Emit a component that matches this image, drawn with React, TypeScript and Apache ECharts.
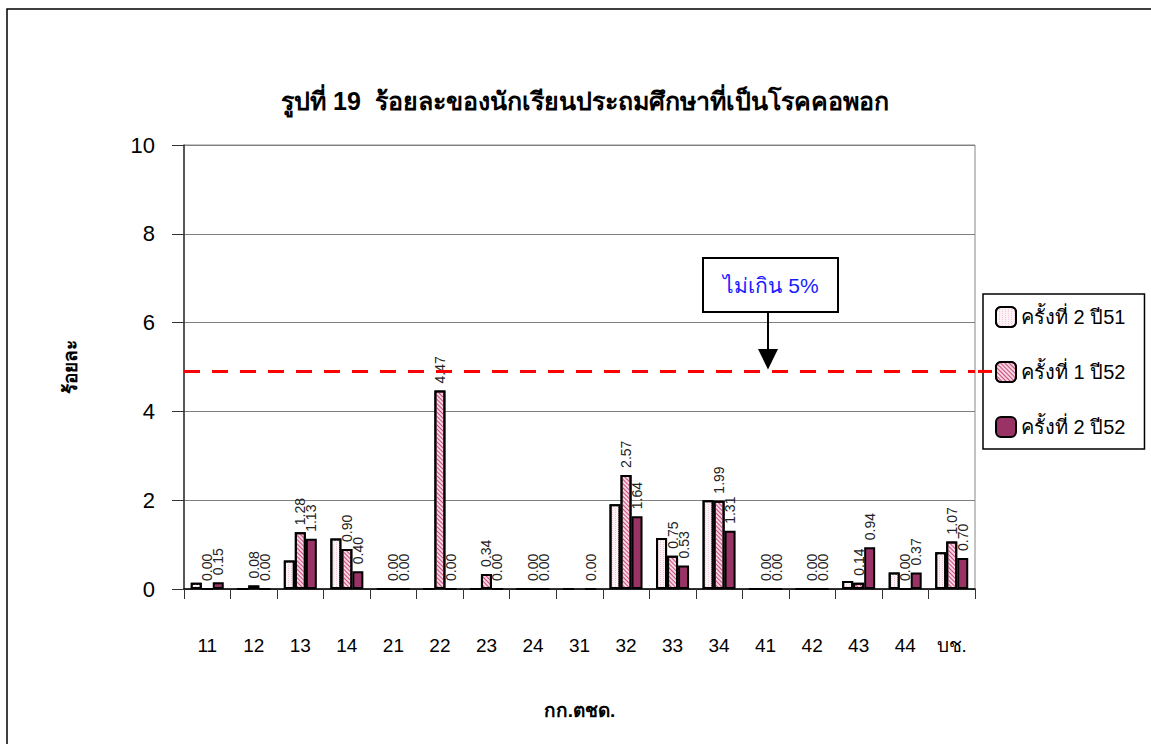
import React, { useEffect, useRef } from "react";
import * as echarts from "echarts";

const categories = ["11", "12", "13", "14", "21", "22", "23", "24", "31", "32", "33", "34", "41", "42", "43", "44", "บช."];
const seriesNames = ["ครั้งที่ 2 ปี51", "ครั้งที่ 1 ปี52", "ครั้งที่ 2 ปี52"];
const round2y51 = [0.14, 0, 0.64, 1.14, 0, 0, 0, 0, 0, 1.91, 1.15, 2.0, 0, 0, 0.18, 0.37, 0.83];
const round1y52 = [0.0, 0.08, 1.28, 0.9, 0.0, 4.47, 0.34, 0.0, null, 2.57, 0.75, 1.99, 0.0, 0.0, 0.14, 0.0, 1.07];
const round2y52 = [0.15, 0.0, 1.13, 0.4, 0.0, 0.0, 0.0, 0.0, 0.0, 1.64, 0.53, 1.31, 0.0, 0.0, 0.94, 0.37, 0.7];
const limitValue = 4.9;
const yTicks = { min: 0, max: 10, interval: 2 };
const titleText = "รูปที่ 19  ร้อยละของนักเรียนประถมศึกษาที่เป็นโรคคอพอก";
const xName = "กก.ตชด.";
const yName = "ร้อยละ";
const noteText = "ไม่เกิน 5%";

const FONT = "Arial, 'Liberation Sans', 'Noto Sans', sans-serif";

export default function App() {
  const ref = useRef<HTMLDivElement>(null);
  useEffect(() => {
    if (!ref.current) return;
    const chart = echarts.init(ref.current, null, { renderer: "svg" });
    const labelCfg = {
      show: true,
      position: "top",
      rotate: 90,
      align: "left",
      verticalAlign: "middle",
      distance: 7,
      fontSize: 14,
      fontFamily: FONT,
      color: "#222",
      formatter: (p: any) => (p.value == null ? "" : Number(p.value).toFixed(2)),
    };
    chart.setOption({
      animation: false,
      backgroundColor: "#fff",
      title: {
        text: titleText,
        left: 580,
        textAlign: "center",
        top: 83,
        textStyle: { fontSize: 25, fontWeight: "bold", fontFamily: FONT, color: "#000" },
      },
      legend: {
        orient: "vertical",
        left: 983,
        top: 294,
        padding: [12, 19, 11, 12],
        itemWidth: 20,
        itemHeight: 20,
        itemGap: 33,
        borderColor: "#000",
        borderWidth: 1.5,
        backgroundColor: "#fff",
        textStyle: { fontSize: 20, fontFamily: FONT, color: "#000" },
        data: seriesNames,
      },
      grid: {
        left: 184,
        top: 145,
        right: 176,
        bottom: 155,
        show: true,
        borderColor: "#888",
        borderWidth: 1,
      },
      xAxis: {
        type: "category",
        data: categories,
        name: xName,
        nameLocation: "middle",
        nameGap: 112,
        nameTextStyle: { fontSize: 19, fontWeight: "bold", fontFamily: FONT, color: "#000" },
        axisLine: { lineStyle: { color: "#000", width: 1.5 } },
        axisTick: { show: true, length: 10, lineStyle: { color: "#333" } },
        axisLabel: { margin: 47, fontSize: 19, fontFamily: FONT, color: "#000" },
      },
      yAxis: {
        type: "value",
        min: yTicks.min,
        max: yTicks.max,
        interval: yTicks.interval,
        name: yName,
        nameLocation: "middle",
        nameGap: 104,
        nameRotate: 90,
        nameTextStyle: { fontSize: 19, fontWeight: "bold", fontFamily: FONT, color: "#000" },
        axisLine: { show: true, lineStyle: { color: "#333", width: 1.5 } },
        axisTick: { show: true, length: 12, lineStyle: { color: "#333" } },
        axisLabel: { margin: 29, fontSize: 22, fontFamily: FONT, color: "#000" },
        splitLine: { show: true, lineStyle: { color: "#808080", width: 1 } },
      },
      series: [
        {
          name: seriesNames[0],
          type: "bar",
          data: round2y51,
          barWidth: 11,
          barGap: "0%",
          itemStyle: {
            color: "#fdf3f7",
            borderColor: "#000",
            borderWidth: 2,
            decal: {
              symbol: "rect",
              symbolSize: 1,
              color: "#f3c9da",
              dashArrayX: [1, 2],
              dashArrayY: [1, 1],
              rotation: 0,
            },
          },
        },
        {
          name: seriesNames[1],
          type: "bar",
          data: round1y52,
          barWidth: 11,
          barGap: "0%",
          label: labelCfg,
          itemStyle: {
            color: "#f5d6e2",
            borderColor: "#000",
            borderWidth: 2,
            decal: {
              symbol: "rect",
              symbolSize: 1,
              color: "#cc4a7c",
              dashArrayX: [1, 0],
              dashArrayY: [1, 1.5],
              rotation: Math.PI / 4,
            },
          },
        },
        {
          name: seriesNames[2],
          type: "bar",
          data: round2y52,
          barWidth: 11,
          barGap: "0%",
          label: labelCfg,
          itemStyle: { color: "#993366", borderColor: "#000", borderWidth: 2 },
          markLine: {
            silent: true,
            symbol: "none",
            label: { show: false },
            lineStyle: { color: "#ff0000", width: 3, type: [16, 12] },
            data: [{ yAxis: limitValue }],
          },
        },
      ],
    });
    const yLimit = chart.convertToPixel({ yAxisIndex: 0 }, limitValue) as number;
    chart.setOption({
      graphic: [
        {
          id: "frame",
          type: "rect",
          shape: { x: 7, y: 9, width: 1160, height: 760 },
          style: { fill: "none", stroke: "#000", lineWidth: 1.5 },
          silent: true,
        },
        {
          id: "limitExt",
          type: "line",
          shape: { x1: 978, y1: yLimit, x2: 992, y2: yLimit },
          style: { stroke: "#ff0000", lineWidth: 3 },
          z: 200,
        },
        {
          id: "noteBox",
          type: "rect",
          shape: { x: 703, y: 258, width: 135, height: 54 },
          style: { fill: "#fff", stroke: "#000", lineWidth: 2 },
          z: 100,
        },
        {
          id: "noteText",
          type: "text",
          x: 771,
          y: 285,
          style: {
            text: noteText,
            fill: "#1a1aff",
            font: `21px ${FONT}`,
            align: "center",
            verticalAlign: "middle",
          },
          z: 101,
        },
        {
          id: "arrowLine",
          type: "line",
          shape: { x1: 768, y1: 312, x2: 768, y2: 350 },
          style: { stroke: "#000", lineWidth: 2 },
          z: 100,
        },
        {
          id: "arrowHead",
          type: "polygon",
          shape: { points: [[758, 349], [778, 349], [768, yLimit - 2]] },
          style: { fill: "#000" },
          z: 100,
        },
      ],
    });
    return () => chart.dispose();
  }, []);
  return (
    <div
      ref={ref}
      style={{ position: "fixed", left: 0, top: 0, width: 1151, height: 744, background: "#fff" }}
    />
  );
}
